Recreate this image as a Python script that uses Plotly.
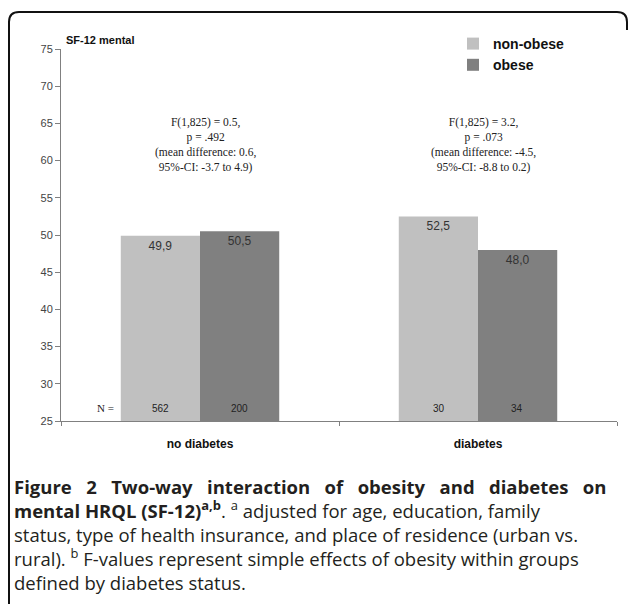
import plotly.graph_objects as go

categories = ["no diabetes", "diabetes"]
non_obese = [49.9, 52.5]
obese = [50.5, 48.0]
n_non_obese = [562, 30]
n_obese = [200, 34]
stats_text = [
    "F(1,825) = 0.5,<br>p = .492<br>(mean difference: 0.6,<br>95%-CI: -3.7 to 4.9)",
    "F(1,825) = 3.2,<br>p = .073<br>(mean difference: -4.5,<br>95%-CI: -8.8 to 0.2)",
]
y_ticks = [25, 30, 35, 40, 45, 50, 55, 60, 65, 70, 75]

W, H = 629, 604
L, R, T, B = 61, 12, 49, 183
PW = W - L - R
PH = H - T - B


def px(x):
    return (x - L) / PW


def py(y):
    return (H - B - y) / PH


fig = go.Figure()
fig.add_trace(go.Bar(
    x=categories, y=non_obese, name="<b>non-obese</b>",
    marker=dict(color="#C0C0C0", line=dict(width=0)),
    texttemplate="%{y:.1f}", textposition="inside", insidetextanchor="end",
    textangle=0, textfont=dict(family="Arial", size=12, color="#333333"),
))
fig.add_trace(go.Bar(
    x=categories, y=obese, name="<b>obese</b>",
    marker=dict(color="#808080", line=dict(width=0)),
    texttemplate="%{y:.1f}", textposition="inside", insidetextanchor="end",
    textangle=0, textfont=dict(family="Arial", size=12, color="#333333"),
))

annotations = []
for i in range(len(categories)):
    annotations.append(dict(x=i - 0.142, y=25, xref="x", yref="y", text=str(n_non_obese[i]),
                            showarrow=False, yanchor="bottom", yshift=5,
                            font=dict(family="Arial", size=10, color="#222222")))
    annotations.append(dict(x=i + 0.142, y=25, xref="x", yref="y", text=str(n_obese[i]),
                            showarrow=False, yanchor="bottom", yshift=5,
                            font=dict(family="Arial", size=10, color="#222222")))
    annotations.append(dict(x=i + 0.02, y=py(114), xref="x", yref="paper",
                            text=stats_text[i], showarrow=False, yanchor="top",
                            align="center",
                            font=dict(family="Liberation Serif", size=11.5, color="#222222")))
annotations.append(dict(x=px(105), y=25, xref="paper", yref="y", text="N =", showarrow=False,
                        xanchor="center", yanchor="bottom", yshift=5,
                        font=dict(family="Liberation Serif", size=11, color="#222222")))
annotations.append(dict(x=px(64), y=py(40), xref="paper", yref="paper", text="<b>SF-12 mental</b>",
                        showarrow=False, xanchor="left", yanchor="middle",
                        font=dict(family="Arial", size=11, color="#111111")))

s1 = " &nbsp;&nbsp;"
caption = [
    "<b>" + s1.join(["Figure", "2", "Two-way", "interaction", "of", "obesity", "and",
                     "diabetes", "on"]) + "</b>",
    "<b>mental HRQL (SF-12)<sup>a,b</sup></b>. <sup>a</sup> adjusted for age, education, family",
    "status, type of health insurance, and place of residence (urban vs.",
    "rural). <sup>b</sup> F-values represent simple effects of obesity within groups",
    "defined by diabetes status.",
]
annotations.append(dict(x=px(13), y=py(473), xref="paper", yref="paper", text="<br>".join(caption),
                        showarrow=False, xanchor="left", yanchor="top", align="left",
                        borderpad=0,
                        font=dict(family="Open Sans", size=18.5, color="#231F20")))

# frame
x0, x1, y0, yb, r = px(9), px(627), py(12), py(620), 10
path = (f"M {x0} {yb} L {x0} {py(12 + r)} Q {x0} {y0} {px(9 + r)} {y0} "
        f"L {px(627 - r)} {y0} Q {x1} {y0} {x1} {py(12 + r)} L {x1} {py(30)}")
shapes = [dict(type="path", xref="paper", yref="paper", path=path,
               line=dict(color="#111111", width=2))]

fig.update_layout(
    width=W, height=H,
    margin=dict(l=L, r=R, t=T, b=B),
    paper_bgcolor="white", plot_bgcolor="white",
    separators=",.",
    barmode="group", bargap=0.43, bargroupgap=0,
    showlegend=True,
    legend=dict(x=px(453), y=py(28), xanchor="left", yanchor="top",
                font=dict(family="Arial", size=14, color="#111111"),
                bgcolor="rgba(0,0,0,0)", itemwidth=30, tracegroupgap=0),
    annotations=annotations,
    shapes=shapes,
    xaxis=dict(
        tickmode="array", tickvals=categories,
        ticktext=["<b>" + c + "</b>" for c in categories],
        tickfont=dict(family="Arial", size=12, color="#111111"),
        showline=True, linecolor="#808080", linewidth=1,
        ticks="outside", tickson="boundaries", ticklen=4, tickcolor="#808080",
        ticklabelstandoff=12, showgrid=False, zeroline=False,
    ),
    yaxis=dict(
        range=[25, 75], tickvals=y_ticks,
        tickfont=dict(family="Arial", size=11, color="#444444"),
        showline=True, linecolor="#808080", linewidth=1,
        ticks="outside", ticklen=5, tickcolor="#808080",
        showgrid=False, zeroline=False,
    ),
)

fig.write_html("out.html", config={"displayModeBar": False},
               post_script="document.body.style.margin='0';")
